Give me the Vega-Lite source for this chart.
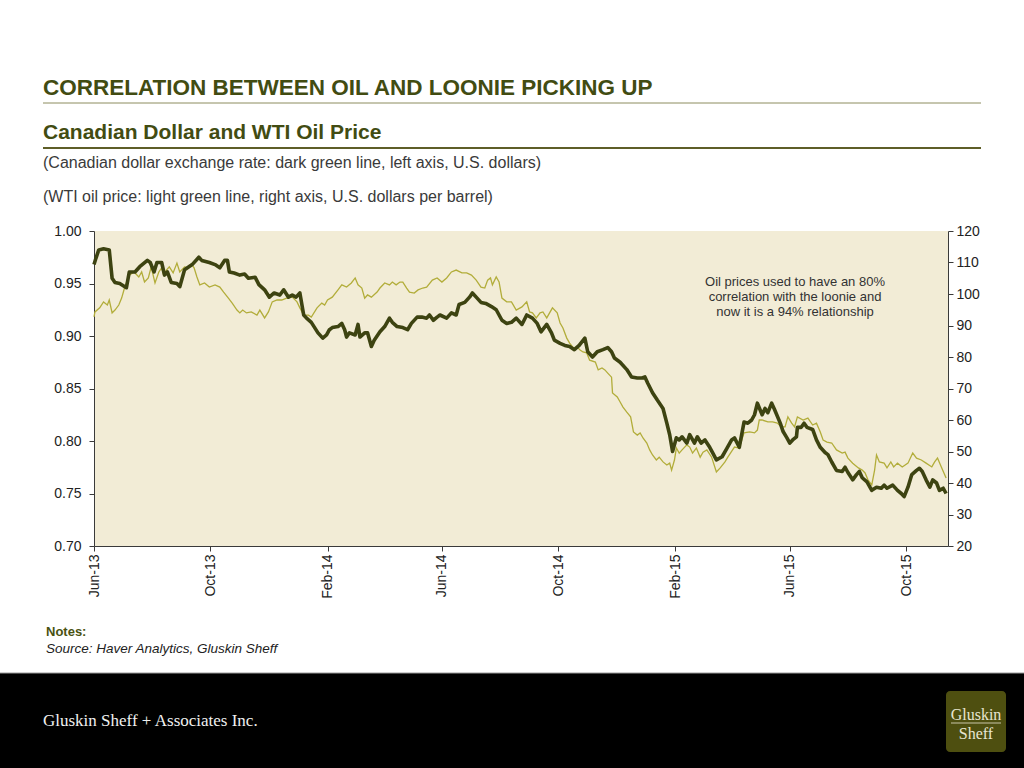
{
  "$schema": "https://vega.github.io/schema/vega-lite/v6.json",
  "width": 854,
  "height": 315,
  "autosize": {"type": "none"},
  "padding": {"left": 94, "top": 231, "right": 76, "bottom": 222},
  "background": "white",
  "datasets": {
    "cad": [
      {"date":"2013-06-01","cad":0.968},{"date":"2013-06-03","cad":0.974},{"date":"2013-06-06","cad":0.982},{"date":"2013-06-11","cad":0.983},{"date":"2013-06-17","cad":0.982},{"date":"2013-06-20","cad":0.955},{"date":"2013-06-23","cad":0.951},{"date":"2013-06-28","cad":0.950},
      {"date":"2013-07-05","cad":0.946},{"date":"2013-07-08","cad":0.961},{"date":"2013-07-14","cad":0.961},{"date":"2013-07-19","cad":0.966},{"date":"2013-07-27","cad":0.972},{"date":"2013-07-30","cad":0.970},
      {"date":"2013-08-03","cad":0.961},{"date":"2013-08-06","cad":0.970},{"date":"2013-08-11","cad":0.970},{"date":"2013-08-14","cad":0.958},{"date":"2013-08-17","cad":0.961},{"date":"2013-08-21","cad":0.951},{"date":"2013-08-27","cad":0.950},{"date":"2013-08-30","cad":0.947},
      {"date":"2013-09-04","cad":0.963},{"date":"2013-09-12","cad":0.968},{"date":"2013-09-19","cad":0.975},{"date":"2013-09-22","cad":0.972},{"date":"2013-09-30","cad":0.970},
      {"date":"2013-10-06","cad":0.968},{"date":"2013-10-11","cad":0.965},{"date":"2013-10-16","cad":0.972},{"date":"2013-10-19","cad":0.972},{"date":"2013-10-21","cad":0.961},{"date":"2013-10-26","cad":0.960},
      {"date":"2013-11-01","cad":0.958},{"date":"2013-11-06","cad":0.959},{"date":"2013-11-10","cad":0.955},{"date":"2013-11-17","cad":0.956},{"date":"2013-11-21","cad":0.949},{"date":"2013-11-27","cad":0.944},
      {"date":"2013-12-02","cad":0.937},{"date":"2013-12-07","cad":0.941},{"date":"2013-12-13","cad":0.939},{"date":"2013-12-17","cad":0.944},{"date":"2013-12-22","cad":0.937},{"date":"2013-12-26","cad":0.939},{"date":"2013-12-30","cad":0.937},
      {"date":"2014-01-03","cad":0.941},{"date":"2014-01-07","cad":0.920},{"date":"2014-01-10","cad":0.917},{"date":"2014-01-15","cad":0.913},{"date":"2014-01-22","cad":0.903},{"date":"2014-01-27","cad":0.898},{"date":"2014-01-31","cad":0.901},
      {"date":"2014-02-03","cad":0.906},{"date":"2014-02-06","cad":0.908},{"date":"2014-02-12","cad":0.909},{"date":"2014-02-16","cad":0.912},{"date":"2014-02-19","cad":0.906},{"date":"2014-02-21","cad":0.899},{"date":"2014-02-24","cad":0.903},
      {"date":"2014-03-02","cad":0.901},{"date":"2014-03-05","cad":0.911},{"date":"2014-03-07","cad":0.899},{"date":"2014-03-12","cad":0.903},{"date":"2014-03-15","cad":0.903},{"date":"2014-03-19","cad":0.890},{"date":"2014-03-22","cad":0.896},{"date":"2014-03-28","cad":0.904},
      {"date":"2014-04-02","cad":0.909},{"date":"2014-04-07","cad":0.917},{"date":"2014-04-10","cad":0.913},{"date":"2014-04-15","cad":0.909},{"date":"2014-04-21","cad":0.908},{"date":"2014-04-26","cad":0.906},{"date":"2014-04-30","cad":0.912},
      {"date":"2014-05-06","cad":0.918},{"date":"2014-05-11","cad":0.918},{"date":"2014-05-16","cad":0.917},{"date":"2014-05-19","cad":0.920},{"date":"2014-05-23","cad":0.915},{"date":"2014-05-27","cad":0.918},{"date":"2014-05-30","cad":0.920},
      {"date":"2014-06-06","cad":0.917},{"date":"2014-06-11","cad":0.922},{"date":"2014-06-16","cad":0.920},{"date":"2014-06-19","cad":0.930},{"date":"2014-06-25","cad":0.932},{"date":"2014-06-30","cad":0.937},
      {"date":"2014-07-03","cad":0.941},{"date":"2014-07-07","cad":0.937},{"date":"2014-07-12","cad":0.932},{"date":"2014-07-17","cad":0.931},{"date":"2014-07-23","cad":0.928},{"date":"2014-07-28","cad":0.925},
      {"date":"2014-08-03","cad":0.915},{"date":"2014-08-08","cad":0.912},{"date":"2014-08-13","cad":0.913},{"date":"2014-08-18","cad":0.917},{"date":"2014-08-24","cad":0.911},{"date":"2014-08-29","cad":0.920},
      {"date":"2014-09-04","cad":0.917},{"date":"2014-09-09","cad":0.912},{"date":"2014-09-13","cad":0.904},{"date":"2014-09-19","cad":0.911},{"date":"2014-09-24","cad":0.903},{"date":"2014-09-27","cad":0.896},
      {"date":"2014-10-03","cad":0.893},{"date":"2014-10-08","cad":0.891},{"date":"2014-10-13","cad":0.890},{"date":"2014-10-18","cad":0.887},{"date":"2014-10-23","cad":0.891},{"date":"2014-10-29","cad":0.898},
      {"date":"2014-11-01","cad":0.885},{"date":"2014-11-06","cad":0.880},{"date":"2014-11-11","cad":0.885},{"date":"2014-11-17","cad":0.887},{"date":"2014-11-22","cad":0.889},{"date":"2014-11-26","cad":0.885},{"date":"2014-11-29","cad":0.879},
      {"date":"2014-12-05","cad":0.875},{"date":"2014-12-12","cad":0.868},{"date":"2014-12-17","cad":0.861},{"date":"2014-12-23","cad":0.860},{"date":"2014-12-28","cad":0.860},{"date":"2014-12-31","cad":0.861},
      {"date":"2015-01-03","cad":0.855},{"date":"2015-01-08","cad":0.846},{"date":"2015-01-13","cad":0.839},{"date":"2015-01-19","cad":0.831},{"date":"2015-01-23","cad":0.817},{"date":"2015-01-26","cad":0.806},{"date":"2015-01-29","cad":0.790},
      {"date":"2015-02-02","cad":0.803},{"date":"2015-02-05","cad":0.801},{"date":"2015-02-08","cad":0.804},{"date":"2015-02-13","cad":0.798},{"date":"2015-02-16","cad":0.806},{"date":"2015-02-21","cad":0.798},{"date":"2015-02-24","cad":0.804},{"date":"2015-02-28","cad":0.798},
      {"date":"2015-03-04","cad":0.801},{"date":"2015-03-09","cad":0.794},{"date":"2015-03-12","cad":0.789},{"date":"2015-03-16","cad":0.782},{"date":"2015-03-22","cad":0.785},{"date":"2015-03-27","cad":0.793},
      {"date":"2015-04-01","cad":0.801},{"date":"2015-04-04","cad":0.803},{"date":"2015-04-09","cad":0.794},{"date":"2015-04-14","cad":0.818},{"date":"2015-04-18","cad":0.817},{"date":"2015-04-22","cad":0.820},{"date":"2015-04-25","cad":0.825},{"date":"2015-04-28","cad":0.836},
      {"date":"2015-05-03","cad":0.825},{"date":"2015-05-06","cad":0.831},{"date":"2015-05-09","cad":0.827},{"date":"2015-05-13","cad":0.836},{"date":"2015-05-16","cad":0.830},{"date":"2015-05-22","cad":0.817},{"date":"2015-05-25","cad":0.809},{"date":"2015-05-29","cad":0.803},
      {"date":"2015-06-01","cad":0.798},{"date":"2015-06-04","cad":0.801},{"date":"2015-06-08","cad":0.804},{"date":"2015-06-09","cad":0.813},{"date":"2015-06-13","cad":0.813},{"date":"2015-06-16","cad":0.817},{"date":"2015-06-19","cad":0.813},{"date":"2015-06-25","cad":0.811},{"date":"2015-06-29","cad":0.801},
      {"date":"2015-07-03","cad":0.794},{"date":"2015-07-08","cad":0.789},{"date":"2015-07-11","cad":0.787},{"date":"2015-07-15","cad":0.780},{"date":"2015-07-20","cad":0.772},{"date":"2015-07-26","cad":0.771},{"date":"2015-07-29","cad":0.775},
      {"date":"2015-08-01","cad":0.770},{"date":"2015-08-06","cad":0.763},{"date":"2015-08-10","cad":0.768},{"date":"2015-08-13","cad":0.771},{"date":"2015-08-16","cad":0.765},{"date":"2015-08-21","cad":0.761},{"date":"2015-08-26","cad":0.753},{"date":"2015-08-31","cad":0.756},
      {"date":"2015-09-05","cad":0.755},{"date":"2015-09-08","cad":0.758},{"date":"2015-09-11","cad":0.755},{"date":"2015-09-17","cad":0.758},{"date":"2015-09-22","cad":0.753},{"date":"2015-09-26","cad":0.750},{"date":"2015-09-29","cad":0.747},
      {"date":"2015-10-03","cad":0.756},{"date":"2015-10-07","cad":0.768},{"date":"2015-10-12","cad":0.772},{"date":"2015-10-15","cad":0.774},{"date":"2015-10-18","cad":0.771},{"date":"2015-10-22","cad":0.763},{"date":"2015-10-26","cad":0.756},{"date":"2015-10-29","cad":0.763},
      {"date":"2015-11-02","cad":0.760},{"date":"2015-11-05","cad":0.753},{"date":"2015-11-09","cad":0.755},{"date":"2015-11-12","cad":0.750}
    ],
    "oil": [
      {"date":"2013-06-01","wti":92.7},{"date":"2013-06-02","wti":94.3},{"date":"2013-06-07","wti":95.6},{"date":"2013-06-11","wti":97.5},{"date":"2013-06-15","wti":96.5},{"date":"2013-06-17","wti":98.1},{"date":"2013-06-20","wti":94.0},{"date":"2013-06-23","wti":94.9},{"date":"2013-06-27","wti":96.5},{"date":"2013-06-30","wti":98.7},
      {"date":"2013-07-03","wti":101.9},{"date":"2013-07-08","wti":106.0},{"date":"2013-07-13","wti":107.0},{"date":"2013-07-18","wti":105.4},{"date":"2013-07-21","wti":107.0},{"date":"2013-07-24","wti":103.8},{"date":"2013-07-28","wti":105.1},{"date":"2013-07-31","wti":108.6},
      {"date":"2013-08-04","wti":103.5},{"date":"2013-08-08","wti":107.0},{"date":"2013-08-11","wti":108.3},{"date":"2013-08-13","wti":106.0},{"date":"2013-08-16","wti":107.6},{"date":"2013-08-19","wti":108.6},{"date":"2013-08-23","wti":106.7},{"date":"2013-08-27","wti":109.8},{"date":"2013-08-30","wti":107.0},
      {"date":"2013-09-04","wti":108.6},{"date":"2013-09-08","wti":108.3},{"date":"2013-09-12","wti":109.2},{"date":"2013-09-14","wti":108.3},{"date":"2013-09-17","wti":105.4},{"date":"2013-09-20","wti":102.9},{"date":"2013-09-25","wti":103.5},{"date":"2013-09-30","wti":102.2},
      {"date":"2013-10-06","wti":102.9},{"date":"2013-10-11","wti":102.2},{"date":"2013-10-15","wti":100.6},{"date":"2013-10-20","wti":98.7},{"date":"2013-10-24","wti":97.1},{"date":"2013-10-29","wti":94.9},
      {"date":"2013-11-01","wti":94.0},{"date":"2013-11-04","wti":94.9},{"date":"2013-11-08","wti":94.0},{"date":"2013-11-13","wti":94.3},{"date":"2013-11-19","wti":93.3},{"date":"2013-11-22","wti":94.9},{"date":"2013-11-27","wti":92.4},
      {"date":"2013-12-01","wti":94.3},{"date":"2013-12-05","wti":97.5},{"date":"2013-12-10","wti":98.1},{"date":"2013-12-15","wti":98.1},{"date":"2013-12-20","wti":98.7},{"date":"2013-12-26","wti":99.0},{"date":"2013-12-31","wti":97.5},
      {"date":"2014-01-03","wti":95.6},{"date":"2014-01-07","wti":93.3},{"date":"2014-01-12","wti":93.3},{"date":"2014-01-15","wti":92.7},{"date":"2014-01-21","wti":95.6},{"date":"2014-01-26","wti":97.1},{"date":"2014-01-29","wti":96.5},
      {"date":"2014-02-01","wti":98.1},{"date":"2014-02-06","wti":99.0},{"date":"2014-02-12","wti":101.3},{"date":"2014-02-16","wti":102.9},{"date":"2014-02-21","wti":102.2},{"date":"2014-02-26","wti":103.5},
      {"date":"2014-03-02","wti":105.1},{"date":"2014-03-05","wti":102.9},{"date":"2014-03-09","wti":101.9},{"date":"2014-03-12","wti":98.7},{"date":"2014-03-15","wti":99.7},{"date":"2014-03-19","wti":99.0},{"date":"2014-03-25","wti":100.6},{"date":"2014-03-28","wti":101.9},
      {"date":"2014-04-02","wti":103.5},{"date":"2014-04-07","wti":102.9},{"date":"2014-04-10","wti":103.8},{"date":"2014-04-14","wti":102.9},{"date":"2014-04-18","wti":103.8},{"date":"2014-04-21","wti":103.8},{"date":"2014-04-25","wti":101.9},{"date":"2014-04-28","wti":100.6},
      {"date":"2014-05-03","wti":100.3},{"date":"2014-05-07","wti":101.3},{"date":"2014-05-12","wti":101.9},{"date":"2014-05-16","wti":102.2},{"date":"2014-05-22","wti":104.4},{"date":"2014-05-27","wti":105.1},
      {"date":"2014-06-01","wti":103.8},{"date":"2014-06-06","wti":105.1},{"date":"2014-06-11","wti":107.0},{"date":"2014-06-16","wti":107.6},{"date":"2014-06-22","wti":106.7},{"date":"2014-06-27","wti":106.7},
      {"date":"2014-07-02","wti":106.0},{"date":"2014-07-07","wti":104.4},{"date":"2014-07-12","wti":102.2},{"date":"2014-07-16","wti":101.9},{"date":"2014-07-19","wti":104.4},{"date":"2014-07-22","wti":105.1},{"date":"2014-07-24","wti":102.9},{"date":"2014-07-28","wti":105.4},{"date":"2014-07-31","wti":103.8},
      {"date":"2014-08-03","wti":98.7},{"date":"2014-08-08","wti":97.5},{"date":"2014-08-13","wti":97.5},{"date":"2014-08-18","wti":94.9},{"date":"2014-08-24","wti":95.9},{"date":"2014-08-29","wti":97.5},
      {"date":"2014-09-01","wti":94.3},{"date":"2014-09-04","wti":94.0},{"date":"2014-09-08","wti":92.4},{"date":"2014-09-12","wti":94.0},{"date":"2014-09-15","wti":94.3},{"date":"2014-09-19","wti":92.4},{"date":"2014-09-22","wti":94.0},{"date":"2014-09-25","wti":95.6},{"date":"2014-09-30","wti":94.0},
      {"date":"2014-10-03","wti":90.8},{"date":"2014-10-06","wti":89.2},{"date":"2014-10-10","wti":86.0},{"date":"2014-10-13","wti":84.4},{"date":"2014-10-17","wti":82.9},{"date":"2014-10-21","wti":83.2},{"date":"2014-10-24","wti":82.2},{"date":"2014-10-27","wti":81.6},{"date":"2014-10-31","wti":81.3},
      {"date":"2014-11-03","wti":79.0},{"date":"2014-11-09","wti":78.4},{"date":"2014-11-12","wti":75.9},{"date":"2014-11-16","wti":76.5},{"date":"2014-11-19","wti":75.9},{"date":"2014-11-22","wti":74.9},{"date":"2014-11-26","wti":73.6},{"date":"2014-11-27","wti":68.6},
      {"date":"2014-12-02","wti":67.3},{"date":"2014-12-05","wti":65.7},{"date":"2014-12-08","wti":64.1},{"date":"2014-12-12","wti":62.5},{"date":"2014-12-16","wti":61.0},{"date":"2014-12-19","wti":56.2},{"date":"2014-12-23","wti":55.2},{"date":"2014-12-26","wti":55.9},{"date":"2014-12-29","wti":54.3},
      {"date":"2015-01-02","wti":52.7},{"date":"2015-01-05","wti":50.5},{"date":"2015-01-08","wti":48.9},{"date":"2015-01-12","wti":47.3},{"date":"2015-01-15","wti":48.2},{"date":"2015-01-19","wti":46.7},{"date":"2015-01-23","wti":45.7},{"date":"2015-01-26","wti":46.3},{"date":"2015-01-28","wti":44.1},{"date":"2015-01-31","wti":47.3},
      {"date":"2015-02-02","wti":51.1},{"date":"2015-02-05","wti":49.5},{"date":"2015-02-08","wti":50.5},{"date":"2015-02-13","wti":52.1},{"date":"2015-02-16","wti":51.4},{"date":"2015-02-19","wti":49.5},{"date":"2015-02-23","wti":51.1},{"date":"2015-02-27","wti":48.2},
      {"date":"2015-03-02","wti":49.8},{"date":"2015-03-06","wti":50.5},{"date":"2015-03-11","wti":48.2},{"date":"2015-03-16","wti":43.5},{"date":"2015-03-20","wti":44.8},{"date":"2015-03-25","wti":46.7},{"date":"2015-03-28","wti":48.2},
      {"date":"2015-04-02","wti":50.5},{"date":"2015-04-04","wti":51.4},{"date":"2015-04-09","wti":51.1},{"date":"2015-04-14","wti":55.9},{"date":"2015-04-20","wti":56.2},{"date":"2015-04-25","wti":55.9},{"date":"2015-04-28","wti":56.8},{"date":"2015-04-30","wti":60.0},
      {"date":"2015-05-03","wti":60.0},{"date":"2015-05-09","wti":59.4},{"date":"2015-05-14","wti":59.4},{"date":"2015-05-19","wti":59.0},{"date":"2015-05-23","wti":57.8},{"date":"2015-05-27","wti":57.8},{"date":"2015-05-30","wti":61.0},
      {"date":"2015-06-03","wti":59.0},{"date":"2015-06-06","wti":57.8},{"date":"2015-06-09","wti":61.0},{"date":"2015-06-15","wti":60.0},{"date":"2015-06-20","wti":60.6},{"date":"2015-06-25","wti":58.4},{"date":"2015-06-29","wti":59.0},
      {"date":"2015-07-03","wti":56.2},{"date":"2015-07-06","wti":53.6},{"date":"2015-07-10","wti":53.0},{"date":"2015-07-15","wti":52.7},{"date":"2015-07-20","wti":50.5},{"date":"2015-07-26","wti":49.5},{"date":"2015-07-29","wti":49.8},
      {"date":"2015-08-01","wti":47.9},{"date":"2015-08-06","wti":46.3},{"date":"2015-08-12","wti":44.8},{"date":"2015-08-16","wti":44.1},{"date":"2015-08-19","wti":43.2},{"date":"2015-08-22","wti":41.0},{"date":"2015-08-26","wti":39.4},{"date":"2015-08-29","wti":44.1},{"date":"2015-08-31","wti":48.9},
      {"date":"2015-09-03","wti":46.7},{"date":"2015-09-08","wti":46.3},{"date":"2015-09-11","wti":44.8},{"date":"2015-09-15","wti":46.7},{"date":"2015-09-18","wti":45.1},{"date":"2015-09-22","wti":46.3},{"date":"2015-09-27","wti":45.1},
      {"date":"2015-10-03","wti":46.3},{"date":"2015-10-08","wti":49.5},{"date":"2015-10-12","wti":47.9},{"date":"2015-10-17","wti":47.3},{"date":"2015-10-22","wti":46.3},{"date":"2015-10-28","wti":45.1},{"date":"2015-10-31","wti":46.7},
      {"date":"2015-11-03","wti":47.9},{"date":"2015-11-07","wti":45.1},{"date":"2015-11-12","wti":41.6}
    ]
  },
  "layer": [
    {
      "data": {"name": "oil"},
      "mark": {"type": "line", "color": "#b2ad3a", "strokeWidth": 1.3},
      "encoding": {
        "x": {"field": "date", "type": "temporal",
          "scale": {"domain": [{"year": 2013, "month": 6, "date": 1}, {"year": 2015, "month": 11, "date": 14}]},
          "axis": {"title": null, "format": "%b-%y", "labelAngle": -90, "labelAlign": "right", "labelBaseline": "middle", "tickSize": 5, "labelPadding": 3,
            "values": [{"year": 2013, "month": 6, "date": 1}, {"year": 2013, "month": 10, "date": 1}, {"year": 2014, "month": 2, "date": 1}, {"year": 2014, "month": 6, "date": 1}, {"year": 2014, "month": 10, "date": 1}, {"year": 2015, "month": 2, "date": 1}, {"year": 2015, "month": 6, "date": 1}, {"year": 2015, "month": 10, "date": 1}]}},
        "y": {"field": "wti", "type": "quantitative",
          "scale": {"domain": [20, 120], "nice": false, "zero": false},
          "axis": {"title": null, "orient": "right", "values": [20, 30, 40, 50, 60, 70, 80, 90, 100, 110, 120], "tickSize": 5, "labelPadding": 3}}
      }
    },
    {
      "data": {"name": "cad"},
      "mark": {"type": "line", "color": "#3d4311", "strokeWidth": 3.6, "strokeJoin": "round"},
      "encoding": {
        "x": {"field": "date", "type": "temporal"},
        "y": {"field": "cad", "type": "quantitative",
          "scale": {"domain": [0.7, 1.0], "nice": false, "zero": false},
          "axis": {"title": null, "orient": "left", "format": ".2f", "values": [0.7, 0.75, 0.8, 0.85, 0.9, 0.95, 1.0], "tickSize": 5, "labelPadding": 8}}
      }
    },
    {
      "data": {"values": [{}]},
      "mark": {"type": "text", "text": "CORRELATION BETWEEN OIL AND LOONIE PICKING UP", "font": "Liberation Sans", "fontWeight": "bold", "fontSize": 22.5, "color": "#424c12", "align": "left", "baseline": "alphabetic"},
      "encoding": {"x": {"value": -51}, "y": {"value": -136}}
    },
    {
      "data": {"values": [{}]},
      "mark": {"type": "rule", "color": "#8c8c5e", "strokeWidth": 1},
      "encoding": {"x": {"value": -51}, "x2": {"value": 887}, "y": {"value": -128}}
    },
    {
      "data": {"values": [{}]},
      "mark": {"type": "text", "text": "Canadian Dollar and WTI Oil Price", "font": "Liberation Sans", "fontWeight": "bold", "fontSize": 21, "color": "#424c12", "align": "left", "baseline": "alphabetic"},
      "encoding": {"x": {"value": -51}, "y": {"value": -92}}
    },
    {
      "data": {"values": [{}]},
      "mark": {"type": "rule", "color": "#5e5e28", "strokeWidth": 2},
      "encoding": {"x": {"value": -51}, "x2": {"value": 887}, "y": {"value": -83}}
    },
    {
      "data": {"values": [{}]},
      "mark": {"type": "text", "text": "(Canadian dollar exchange rate: dark green line, left axis, U.S. dollars)", "font": "Liberation Sans", "fontSize": 16, "color": "#3a3a3a", "align": "left", "baseline": "alphabetic"},
      "encoding": {"x": {"value": -51}, "y": {"value": -63}}
    },
    {
      "data": {"values": [{}]},
      "mark": {"type": "text", "text": "(WTI oil price: light green line, right axis, U.S. dollars per barrel)", "font": "Liberation Sans", "fontSize": 16, "color": "#3a3a3a", "align": "left", "baseline": "alphabetic"},
      "encoding": {"x": {"value": -51}, "y": {"value": -29}}
    },
    {
      "data": {"values": [{}]},
      "mark": {"type": "text", "text": ["Oil prices used to have an 80%", "correlation  with the loonie and", "now it is a 94% relationship"], "font": "Liberation Sans", "fontSize": 13, "lineHeight": 15, "color": "#333333", "align": "center", "baseline": "alphabetic"},
      "encoding": {"x": {"value": 701}, "y": {"value": 55}}
    },
    {
      "data": {"values": [{}]},
      "mark": {"type": "text", "text": "Notes:", "font": "Liberation Sans", "fontWeight": "bold", "fontSize": 13, "color": "#4a5212", "align": "left", "baseline": "alphabetic"},
      "encoding": {"x": {"value": -48}, "y": {"value": 405}}
    },
    {
      "data": {"values": [{}]},
      "mark": {"type": "text", "text": "Source: Haver Analytics, Gluskin Sheff", "font": "Liberation Sans", "fontStyle": "italic", "fontSize": 13.5, "color": "#222222", "align": "left", "baseline": "alphabetic"},
      "encoding": {"x": {"value": -48}, "y": {"value": 422}}
    },
    {
      "data": {"values": [{}]},
      "mark": {"type": "rect", "color": "#000000"},
      "encoding": {"x": {"value": -94}, "x2": {"value": 930}, "y": {"value": 442}, "y2": {"value": 537}}
    },
    {
      "data": {"values": [{}]},
      "mark": {"type": "rule", "color": "#9a9a9a", "strokeWidth": 1},
      "encoding": {"x": {"value": -94}, "x2": {"value": 930}, "y": {"value": 442}}
    },
    {
      "data": {"values": [{}]},
      "mark": {"type": "text", "text": "Gluskin Sheff + Associates Inc.", "font": "Liberation Serif", "fontSize": 17, "color": "#f0f0f0", "align": "left", "baseline": "alphabetic"},
      "encoding": {"x": {"value": -51}, "y": {"value": 495}}
    },
    {
      "data": {"values": [{}]},
      "mark": {"type": "rect", "color": "#4e4f10", "cornerRadius": 4},
      "encoding": {"x": {"value": 852}, "x2": {"value": 912}, "y": {"value": 460}, "y2": {"value": 521}}
    },
    {
      "data": {"values": [{}]},
      "mark": {"type": "text", "text": "Gluskin", "font": "Liberation Serif", "fontSize": 16, "color": "#e8e6d2", "align": "center", "baseline": "alphabetic"},
      "encoding": {"x": {"value": 882}, "y": {"value": 489}}
    },
    {
      "data": {"values": [{}]},
      "mark": {"type": "rule", "color": "#c8c6a8", "strokeWidth": 1},
      "encoding": {"x": {"value": 857}, "x2": {"value": 907}, "y": {"value": 492}}
    },
    {
      "data": {"values": [{}]},
      "mark": {"type": "text", "text": "Sheff", "font": "Liberation Serif", "fontSize": 16, "color": "#e8e6d2", "align": "center", "baseline": "alphabetic"},
      "encoding": {"x": {"value": 882}, "y": {"value": 508}}
    }
  ],
  "resolve": {"scale": {"y": "independent"}},
  "config": {
    "view": {"fill": "#f2ecd6", "stroke": null},
    "axis": {"labelFont": "Liberation Sans", "labelFontSize": 14, "labelColor": "#222222", "domainColor": "#3a3a3a", "tickColor": "#3a3a3a", "grid": false}
  }
}
